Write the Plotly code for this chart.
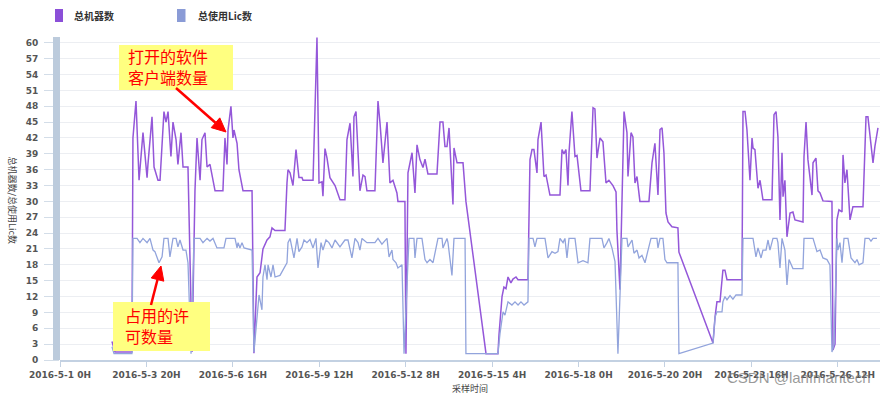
import math
import pandas as pd
import plotly.graph_objects as go

START = pd.Timestamp("2016-05-01 00:00")

series_names = ["总机器数", "总使用Lic数"]

# hours since 2016-5-1 0H, total machines (purple)
machine_hours = [40.9, 43.3, 56.6, 57.4, 59.8, 62.2, 65.3, 68.5, 69.2, 72.4, 74.0, 77.1, 78.7, 81.8, 83.4, 85.0,
                 87.3, 88.9, 91.3, 92.8, 95.2, 96.8, 100.7, 103.9, 106.2, 107.8, 110.2, 111.7, 114.1, 115.7, 118.0,
                 122.0, 128.2, 129.8, 131.4, 132.2, 134.5, 136.1, 136.9, 139.3, 140.8, 144.0, 151.1, 152.6, 155.0,
                 157.4, 159.7, 162.9, 165.2, 166.8, 169.2, 177.0, 178.6, 179.4, 181.0, 183.3, 185.7, 188.0, 190.4,
                 191.2, 199.1, 202.2, 203.8, 206.1, 206.9, 208.5, 210.1, 212.4, 216.4, 220.3, 224.2, 225.8, 228.2,
                 230.5, 231.3, 232.9, 236.0, 238.4, 240.0, 241.5, 247.8, 250.2, 251.8, 254.1, 257.3, 259.6, 262.0,
                 265.1, 265.9, 271.4, 272.2, 273.8, 277.0, 279.3, 280.9, 283.2, 285.6, 287.2, 289.5, 296.6, 299.0,
                 301.3, 302.9, 304.5, 306.1, 309.2, 310.0, 312.4, 317.1, 319.4, 335.2, 344.6, 345.4, 347.8, 349.3,
                 350.9, 352.5, 354.8, 356.4, 358.8, 360.4, 368.2, 369.8, 371.4, 372.9, 375.3, 376.1, 378.5, 380.8,
                 382.4, 385.5, 393.4, 395.0, 396.5, 398.1, 399.7, 400.5, 402.8, 405.2, 406.8, 409.9, 417.0, 419.4,
                 420.9, 422.5, 424.9, 427.2, 429.6, 431.9, 435.1, 437.5, 438.2, 440.6, 442.2, 443.8, 446.1, 446.9,
                 449.3, 450.8, 452.4, 454.0, 456.3, 463.4, 465.8, 468.1, 470.5, 472.1, 473.7, 475.2, 476.8, 478.4,
                 481.5, 486.2, 487.0, 513.8, 515.4, 516.9, 519.3, 521.6, 523.2, 524.8, 536.6, 537.4, 539.0, 540.5,
                 542.9, 544.5, 545.3, 546.8, 549.2, 550.8, 553.1, 560.2, 561.8, 563.4, 564.9, 566.5, 568.1, 568.9,
                 570.4, 572.0, 574.4, 576.7, 578.3, 584.6, 585.4, 587.0, 588.5, 591.7, 592.5, 594.8, 596.4, 598.0,
                 600.3, 607.4, 608.2, 609.8, 611.3, 612.9, 615.3, 616.1, 617.6, 619.2, 621.6, 623.9, 631.8, 634.2,
                 635.7, 639.7, 641.2, 643.6]
machine_counts = [3.5, 1.5, 1.5, 42, 49, 34, 43, 34.5, 37, 46, 36.5, 34, 34, 47, 45, 47,
                  38.5, 45, 41.7, 37, 43, 36.5, 36.5, 1.5, 32, 42, 34, 41.7, 43, 36.5, 37,
                  32, 32, 42, 37, 43.5, 48, 42, 43.5, 41, 36, 32, 32, 1.3, 15.7,
                  16.5, 21, 22.7, 23.3, 25, 24.5, 24.5, 33.5, 36, 35.4, 33, 39.8, 34.5, 34.5,
                  34, 34, 61, 33.5, 33.7, 31, 40, 38.2, 34.5, 33, 30.3, 30.3, 41.7, 44.8,
                  34.7, 46, 47, 32, 35, 34.7, 32, 32, 49, 44.8, 37.3, 45, 33.5, 34,
                  31.6, 30, 30, 1.2, 35.4, 39.2, 31.6, 40.7, 37.9, 36.4, 38, 35.2, 35.2, 45,
                  45, 40.4, 40.4, 43.9, 29.4, 40.1, 37.3, 37.3, 30, 1.2, 1.2, 4.7, 12, 13.8,
                  13.5, 15.7, 14.6, 15.3, 15.7, 15.2, 15.2, 37.9, 39.8, 39.8, 35.4, 41.7, 45, 34.7,
                  35, 31.2, 31.2, 39.8, 39, 39.8, 33, 39.2, 47, 38.5, 38.7, 32, 32, 47.7,
                  47.5, 38.2, 42, 41.3, 33.5, 34, 33, 31.8, 24.6, 13.3, 30.9, 47, 43, 34.7,
                  43, 42.2, 33.5, 34.7, 30, 30, 37.3, 41, 31.2, 43.6, 43.9, 39.2, 27.8, 26.1,
                  25.2, 25, 20.4, 3.2, 8.1, 11, 11, 17, 17, 15.2, 15.2, 47, 47, 43.6,
                  34, 42, 40.1, 39.8, 32.5, 34, 30.3, 30.3, 46.4, 47, 42.2, 26.5, 39.2, 30.9,
                  34, 23.3, 27.8, 28, 26.5, 26.1, 38.5, 45, 37.9, 31.2, 37.3, 38.2, 32, 31.6,
                  30.1, 30, 1.9, 3, 26.5, 28.4, 28, 38.8, 33.5, 36, 26.5, 29, 29, 46,
                  46, 37.3, 40.4, 43.9]

# hours since 2016-5-1 0H, licences in use (blue)
lic_hours = [40.9, 42.5, 56.6, 57.4, 60.6, 62.9, 65.3, 68.5, 70.8, 73.2, 74.7, 76.3, 77.9, 80.3, 81.8, 85.0,
             86.5, 88.9, 91.3, 92.8, 94.4, 96.8, 99.1, 100.7, 103.1, 105.4, 110.2, 112.5, 115.7, 118.0, 120.4,
             123.5, 129.0, 130.6, 137.7, 139.3, 140.1, 141.6, 143.2, 144.8, 151.1, 152.6, 155.0, 156.6, 158.9,
             159.7, 161.3, 162.9, 163.7, 166.0, 167.6, 169.2, 173.1, 175.5, 178.6, 179.4, 181.0, 184.1, 186.5,
             188.0, 190.4, 192.0, 194.3, 196.7, 199.1, 201.4, 203.0, 205.4, 206.9, 209.3, 211.6, 214.0, 216.4,
             220.3, 224.2, 226.6, 229.7, 232.1, 234.5, 236.0, 237.6, 241.5, 247.8, 250.2, 253.3, 257.3, 258.9,
             261.2, 262.0, 264.4, 265.9, 269.1, 270.7, 274.6, 278.5, 279.3, 280.9, 284.8, 287.2, 288.8, 291.1,
             293.5, 295.8, 297.4, 300.6, 301.3, 304.5, 305.3, 308.4, 310.0, 318.7, 319.4, 344.6, 346.2, 348.6,
             350.1, 352.5, 355.6, 358.0, 360.4, 362.7, 365.1, 368.2, 369.0, 372.2, 373.7, 375.3, 381.6, 384.0,
             387.1, 389.5, 391.8, 393.4, 395.8, 397.3, 398.9, 400.5, 405.2, 407.6, 411.5, 415.4, 417.0, 426.4,
             428.0, 430.4, 431.9, 434.3, 436.7, 439.0, 442.2, 446.1, 446.9, 450.1, 451.6, 454.0, 455.6, 457.9,
             460.3, 462.7, 465.0, 469.7, 470.5, 472.1, 474.4, 476.0, 477.6, 486.2, 487.0, 513.8, 515.4, 516.9,
             520.9, 521.6, 523.2, 524.8, 527.2, 529.5, 531.9, 536.6, 537.4, 545.3, 547.6, 549.2, 551.6, 553.1,
             555.5, 557.1, 558.6, 561.0, 564.1, 564.9, 566.5, 568.1, 570.4, 572.0, 573.6, 576.7, 584.6, 585.4,
             592.5, 595.6, 598.0, 600.3, 603.5, 605.8, 607.4, 609.0, 611.3, 612.1, 613.7, 615.3, 616.9, 620.0,
             622.4, 625.5, 627.1, 628.7, 631.8, 633.4, 636.5, 638.1, 639.7, 642.8]
lic_counts = [2.5, 1.2, 1.2, 23, 23, 22.2, 23, 22.2, 23, 20.8, 20.5, 19.5, 18.4, 19.5, 23, 23,
              19.5, 23, 23, 21.4, 22.7, 20.8, 20.8, 18.4, 1.2, 23, 23, 22.2, 23, 22.5, 23,
              21.2, 21.2, 23, 23, 21.2, 22.2, 21.2, 22.2, 21.2, 20.8, 1.5, 8.9, 12.3, 9.5,
              15.7, 18, 15.2, 18, 15.7, 18, 15.7, 16, 17, 18.4, 22.2, 23, 19.3, 23,
              20.5, 21.4, 22.7, 22.2, 22.8, 21.2, 23, 17.4, 22.2, 20.8, 22.7, 22.2, 21.2, 22.7,
              21.4, 22.7, 22.7, 19.3, 23, 22.2, 20.8, 23, 22.2, 22.2, 23, 21.9, 23, 19.5,
              20.8, 19, 18.4, 17.4, 18, 1.2, 23, 23, 19.3, 23, 23, 19, 18.4, 19,
              18.4, 20.8, 23, 23, 21.2, 23, 22.2, 16, 23, 23, 1.2, 1.2, 5, 9.1,
              8.5, 11, 10.4, 11, 10.4, 11, 10.4, 11, 23, 23, 21.4, 23, 23, 19.3,
              20.5, 20.2, 20.5, 23, 22.2, 23, 19.3, 23, 23, 18.4, 18.8, 18.4, 23, 23,
              21.2, 22.2, 23, 21.2, 18.6, 1.2, 23, 23, 21.4, 22.7, 20.2, 20.8, 19.3, 19.8,
              18.4, 20.8, 23, 23, 21.2, 23, 23, 19, 18.4, 18.4, 1.2, 3.2, 8.1, 9.1,
              9.1, 11, 12, 11.4, 12.2, 11.5, 12.3, 12.3, 23, 23, 19.5, 21.2, 19.3, 20.8,
              20.8, 22.7, 20.8, 23, 23, 22.2, 17.4, 23, 20.8, 14.2, 19, 17.3, 17.3, 23,
              23, 20.5, 20.8, 19.3, 19, 18, 1.5, 3, 23, 20.8, 22.2, 18.4, 23, 23,
              19.3, 18.4, 19, 18, 18.4, 23, 23, 22.5, 23, 23]

tick_hours = [0, 68, 136, 204, 272, 340, 408, 476, 544, 612]
tick_labels = ["2016-5-1 0H", "2016-5-3 20H", "2016-5-6 16H", "2016-5-9 12H", "2016-5-12 8H",
               "2016-5-15 4H", "2016-5-18 0H", "2016-5-20 20H", "2016-5-23 16H", "2016-5-26 12H"]
x_range_hours = [0, 645.2]
y_range = [0, 61.1]

x_title = "采样时间"
y_title = "总机器数/总使用Lic数"
note_machines = ["打开的软件", "客户端数量"]
note_lic = ["占用的许", "可数量"]
watermark = "CSDN @lanfmantech"

PURPLE = "#9457d9"
BLUE = "#92a4dc"


def to_time(hours):
    return [(START + pd.Timedelta(hours=h)).strftime("%Y-%m-%d %H:%M:%S") for h in hours]


W, H = 883, 394
ML, MR, MT, MB = 60, 3, 37, 34
PW, PH = W - ML - MR, H - MT - MB


def px(x):
    return (x - ML) / PW


def py(y):
    return (H - MB - y) / PH


fig = go.Figure()
fig.add_trace(go.Scatter(x=to_time(machine_hours), y=machine_counts, mode="lines", name=series_names[0],
                         line=dict(color=PURPLE, width=1.5), showlegend=False))
fig.add_trace(go.Scatter(x=to_time(lic_hours), y=lic_counts, mode="lines", name=series_names[1],
                         line=dict(color=BLUE, width=1.3), showlegend=False))

tick_font = dict(family="DejaVu Sans", size=9, color="#555555", weight="bold")

fig.update_layout(
    width=W, height=H,
    margin=dict(l=ML, r=MR, t=MT, b=MB),
    paper_bgcolor="white", plot_bgcolor="white",
    showlegend=False,
    xaxis=dict(
        type="date", range=to_time(x_range_hours),
        tickvals=to_time(tick_hours), ticktext=tick_labels,
        tickfont=tick_font, ticks="outside", ticklen=5, tickcolor="#c3d1e2",
        showline=True, linecolor="#c3d1e2", linewidth=2,
        showgrid=False, zeroline=False, fixedrange=True,
    ),
    yaxis=dict(
        range=y_range, tick0=0, dtick=3,
        tickfont=tick_font, ticks="outside", ticklen=15, tickcolor="#d3dde8",
        ticklabelstandoff=4,
        showgrid=True, gridcolor="#eceef2", gridwidth=1,
        showline=False, zeroline=False, fixedrange=True,
    ),
)


def arrow_shapes(tail, head, color="#ff0000", width=2.5, head_len=14, head_half=6.5):
    (tx, ty), (hx, hy) = tail, head
    length = math.hypot(hx - tx, hy - ty)
    dx, dy = (hx - tx) / length, (hy - ty) / length
    nx, ny = -dy, dx
    bx, by = hx - head_len * dx, hy - head_len * dy
    line = dict(type="line", xref="paper", yref="paper", x0=px(tx), y0=py(ty), x1=px(bx), y1=py(by),
                line=dict(color=color, width=width), layer="above")
    pts = [(hx, hy), (bx + head_half * nx, by + head_half * ny), (bx - head_half * nx, by - head_half * ny)]
    path = "M " + " L ".join(f"{px(a):.5f},{py(b):.5f}" for a, b in pts) + " Z"
    tri = dict(type="path", xref="paper", yref="paper", path=path, fillcolor=color,
               line=dict(color=color, width=1), layer="above")
    return [line, tri]


shapes = []
# y-axis bar
shapes.append(dict(type="rect", xref="paper", yref="paper", x0=px(53), x1=px(60), y0=0, y1=1,
                   fillcolor="#bccbdc", line=dict(width=0), layer="above"))
# legend swatches
shapes.append(dict(type="rect", xref="paper", yref="paper", x0=px(55), x1=px(63), y0=py(22), y1=py(9),
                   fillcolor="#8b4fd8", line=dict(width=0)))
shapes.append(dict(type="rect", xref="paper", yref="paper", x0=px(177), x1=px(185.5), y0=py(22), y1=py(9),
                   fillcolor="#8a9bd6", line=dict(width=0)))
# yellow note boxes
shapes.append(dict(type="rect", xref="paper", yref="paper", x0=px(119), x1=px(233), y0=py(90), y1=py(45),
                   fillcolor="#ffff80", line=dict(width=0), layer="above"))
shapes.append(dict(type="rect", xref="paper", yref="paper", x0=px(113), x1=px(210), y0=py(351), y1=py(302),
                   fillcolor="#ffff80", line=dict(width=0), layer="above"))
# red arrows
shapes += arrow_shapes((176, 88), (226, 132))
shapes += arrow_shapes((151, 305), (161, 266))
fig.update_layout(shapes=shapes)

ann = []
legend_font = dict(family="Noto Sans CJK SC", size=10, color="#333333", weight="bold")
ann.append(dict(x=px(72), y=py(16), xref="paper", yref="paper", text=series_names[0], showarrow=False,
                xanchor="left", yanchor="middle", font=legend_font))
ann.append(dict(x=px(196), y=py(16), xref="paper", yref="paper", text=series_names[1], showarrow=False,
                xanchor="left", yanchor="middle", font=legend_font))
# axis titles
ann.append(dict(x=px(470), y=py(388), xref="paper", yref="paper", text=x_title, showarrow=False,
                xanchor="center", yanchor="middle",
                font=dict(family="Noto Sans CJK SC", size=9, color="#444444")))
ann.append(dict(x=px(12.5), y=py(200), xref="paper", yref="paper", text=y_title, showarrow=False,
                textangle=90, xanchor="center", yanchor="middle",
                font=dict(family="Noto Sans CJK SC", size=9, color="#444444")))
# note texts (two lines each, one text block)
note_font = dict(family="Liberation Sans, Noto Sans CJK SC", size=16, color="#ff0000")
ann.append(dict(x=px(126), y=py(67.5), xref="paper", yref="paper", text="<br>".join(note_machines),
                showarrow=False, xanchor="left", yanchor="middle", align="left", font=note_font))
ann.append(dict(x=px(123), y=py(326.5), xref="paper", yref="paper", text="<br>".join(note_lic),
                showarrow=False, xanchor="left", yanchor="middle", align="left", font=note_font))
# watermark
ann.append(dict(x=px(725), y=py(377), xref="paper", yref="paper", text=watermark, showarrow=False,
                xanchor="left", yanchor="middle",
                font=dict(family="Liberation Sans", size=15, color="rgba(120,120,120,0.75)")))
fig.update_layout(annotations=ann)

fig.write_html("out.html", config={"displayModeBar": False},
               post_script="document.body.style.margin='0px';document.body.style.overflow='hidden';")
